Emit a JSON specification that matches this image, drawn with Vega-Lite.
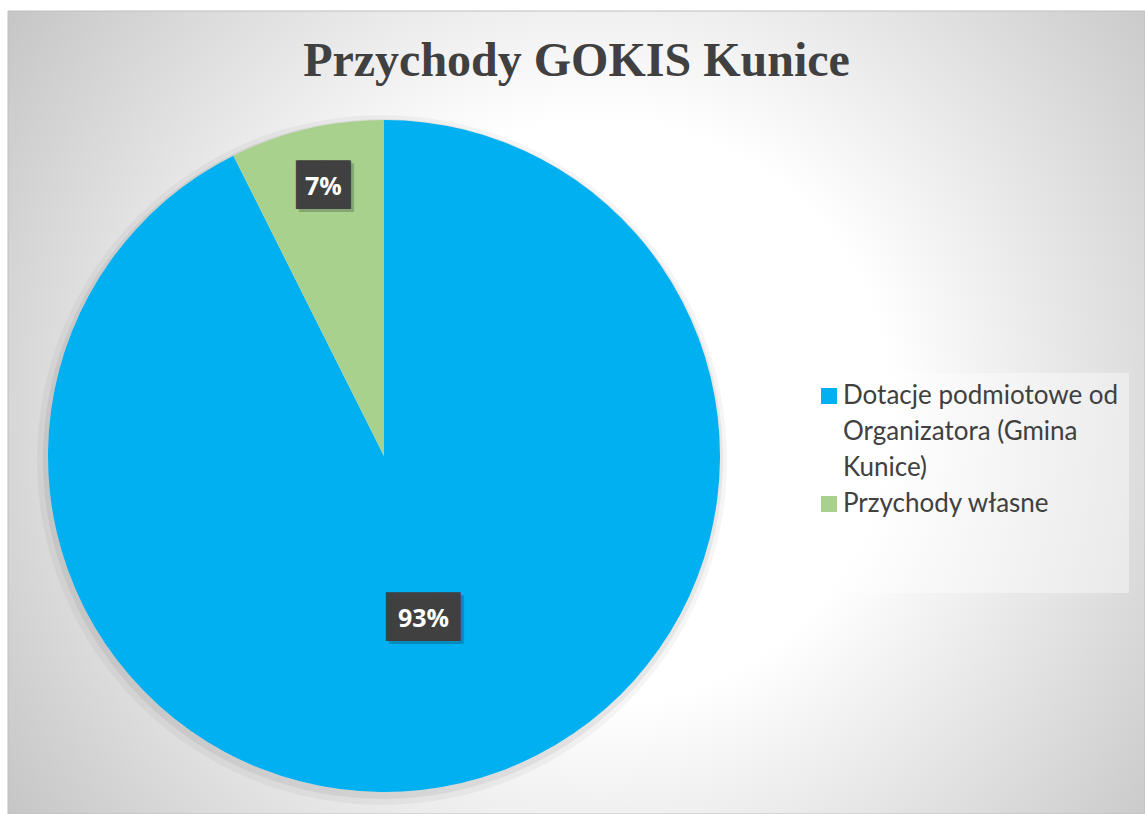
{
  "$schema": "https://vega.github.io/schema/vega-lite/v6.json",
  "width": 1137,
  "height": 803,
  "autosize": {"type": "none"},
  "padding": {"left": 8, "top": 11, "right": 0, "bottom": 0},
  "background": "#ffffff",
  "title": {
    "text": "Przychody GOKIS Kunice",
    "font": "Liberation Serif",
    "fontSize": 48,
    "fontWeight": "bold",
    "color": "#404040",
    "anchor": "middle",
    "baseline": "alphabetic",
    "offset": -66,
    "dy": 47
  },
  "data": {
    "values": [
      {"category": "Dotacje podmiotowe od Organizatora (Gmina Kunice)", "share": 0.926},
      {"category": "Przychody własne", "share": 0.074}
    ]
  },
  "layer": [
    {
      "data": {"values": [{}]},
      "mark": {
        "type": "rect",
        "fill": {
          "gradient": "radial",
          "x1": 0.52, "y1": 0.5, "r1": 0,
          "x2": 0.52, "y2": 0.5, "r2": 0.64,
          "stops": [
            {"offset": 0, "color": "#ffffff"},
            {"offset": 0.4, "color": "#ffffff"},
            {"offset": 1, "color": "#c4c4c4"}
          ]
        },
        "stroke": "#bfbfbf",
        "strokeWidth": 1
      },
      "encoding": {}
    },
    {
      "data": {"values": [{}]},
      "mark": {"type": "arc", "outerRadius": 345, "x": 374, "y": 449, "fill": "#000000", "opacity": 0.04},
      "encoding": {}
    },
    {
      "data": {"values": [{}]},
      "mark": {"type": "arc", "outerRadius": 340, "x": 375, "y": 448, "fill": "#000000", "opacity": 0.06},
      "encoding": {}
    },
    {
      "mark": {"type": "arc", "outerRadius": 336, "x": 376, "y": 445},
      "encoding": {
        "theta": {"field": "share", "type": "quantitative", "stack": true},
        "color": {
          "field": "category",
          "type": "nominal",
          "scale": {
            "domain": ["Dotacje podmiotowe od Organizatora (Gmina Kunice)", "Przychody własne"],
            "range": ["#00B0F0", "#A9D18E"]
          },
          "legend": {
            "orient": "none",
            "legendX": 798,
            "legendY": 362,
            "title": " ",
            "titleOrient": "bottom",
            "titlePadding": 56,
            "titleFontSize": 10,
            "labelFont": "Lato",
            "labelFontSize": 26,
            "labelColor": "#404040",
            "labelLimit": 400,
            "labelOffset": 1,
            "symbolType": "square",
            "symbolSize": 256,
            "symbolStrokeWidth": 0,
            "padding": 10,
            "rowPadding": 10,
            "fillColor": "rgba(255,255,255,0.4)",
            "labelExpr": "datum.label == 'Przychody własne' ? datum.label : ['Dotacje podmiotowe od', 'Organizatora (Gmina', 'Kunice)']"
          }
        }
      }
    },
    {
      "mark": {
        "type": "text",
        "x": 379,
        "y": 448,
        "font": "DejaVu Sans Mono",
        "fontSize": 41,
        "color": "#000000",
        "opacity": 0.2,
        "dx": {"expr": "datum.share < 0.5 ? 3 : 1"},
        "radius": {"expr": "datum.share < 0.5 ? 276 : 167"},
        "text": {"expr": "datum.share < 0.5 ? '▕██▏' : '███'"}
      },
      "encoding": {
        "theta": {"field": "share", "type": "quantitative", "stack": true},
        "detail": {"field": "category"}
      }
    },
    {
      "mark": {
        "type": "text",
        "x": 376,
        "y": 445,
        "font": "DejaVu Sans Mono",
        "fontSize": 41,
        "color": "#404040",
        "dx": {"expr": "datum.share < 0.5 ? 3 : 1"},
        "radius": {"expr": "datum.share < 0.5 ? 276 : 167"},
        "text": {"expr": "datum.share < 0.5 ? '▕██▏' : '███'"}
      },
      "encoding": {
        "theta": {"field": "share", "type": "quantitative", "stack": true},
        "detail": {"field": "category"}
      }
    },
    {
      "mark": {
        "type": "text",
        "x": 376,
        "y": 445,
        "font": "Open Sans",
        "fontWeight": "bold",
        "fontSize": 25,
        "color": "#ffffff",
        "dx": {"expr": "datum.share < 0.5 ? 3 : 1"},
        "radius": {"expr": "datum.share < 0.5 ? 276 : 167"},
        "text": {"expr": "format(datum.share, '.0%')"}
      },
      "encoding": {
        "theta": {"field": "share", "type": "quantitative", "stack": true},
        "detail": {"field": "category"}
      }
    }
  ],
  "config": {
    "view": {"stroke": null},
    "style": {"guide-label": {"lineHeight": 36}}
  }
}
